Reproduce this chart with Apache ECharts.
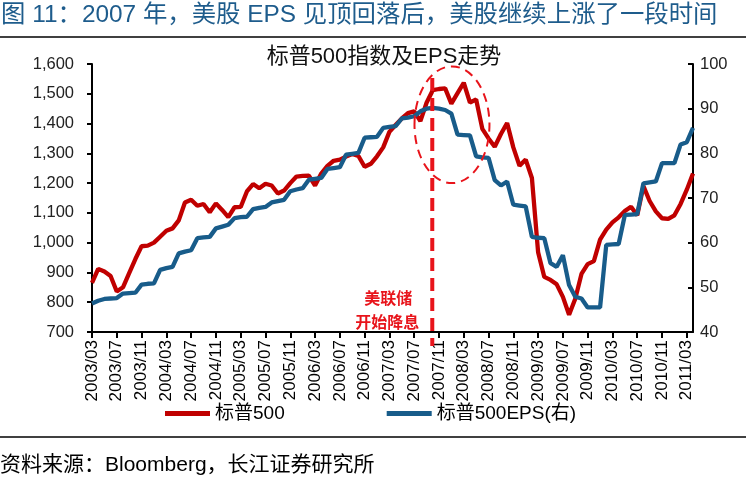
<!DOCTYPE html>
<html>
<head>
<meta charset="utf-8">
<script src="https://cdn.jsdelivr.net/npm/echarts@6/dist/echarts.min.js"></script>
<style>html,body{margin:0;padding:0;background:#fff}#c{width:746px;height:479px}</style>
</head>
<body>
<div id="c"></div>
<script>
// ---- data ----
const months = [];
for (let y = 2003, m = 3; !(y === 2011 && m === 5);) {
  months.push(y + '/' + String(m).padStart(2, '0'));
  m++; if (m > 12) { m = 1; y++; }
}
const sp500 = [
  865, 912, 903, 888, 836, 850, 898, 945, 988, 990,
  1000, 1020, 1040, 1048, 1075, 1135, 1144, 1124, 1130, 1102,
  1132, 1110, 1086, 1119, 1120, 1172, 1197, 1183, 1198, 1192,
  1165, 1175, 1200, 1222, 1224, 1225, 1192, 1232, 1258, 1275,
  1279, 1289, 1298, 1291, 1255, 1265, 1290, 1320, 1372, 1395,
  1417, 1435, 1441, 1408, 1470, 1512, 1516, 1518, 1467, 1502,
  1537, 1470, 1481, 1382, 1350, 1322, 1365, 1402, 1320, 1258,
  1279, 1217, 968, 885, 875, 860, 818, 758, 812, 895,
  928, 938, 1010, 1044, 1068, 1085, 1106, 1121, 1092, 1190,
  1140, 1105, 1082, 1080, 1092, 1130, 1178, 1232
];
const eps = [
  46.4, 47.0, 47.4, 47.5, 47.6, 48.6, 48.7, 48.8, 50.6, 50.8,
  50.9, 53.9, 54.3, 54.6, 57.6, 58.0, 58.3, 61.0, 61.2, 61.3,
  63.2, 63.6, 64.0, 65.5, 65.7, 65.8, 67.5, 67.8, 68.0, 69.0,
  69.3, 69.6, 71.5, 71.9, 72.2, 74.1, 74.3, 74.5, 76.5, 76.7,
  76.9, 79.7, 79.9, 80.1, 83.5, 83.6, 83.7, 85.7, 85.9, 86.1,
  87.8, 88.0, 88.3, 89.4, 90.0, 90.2, 90.0, 89.7, 88.9, 84.2,
  84.1, 84.0, 79.3, 79.1, 79.0, 74.0, 72.8, 73.7, 68.5, 68.3,
  68.1, 61.3, 61.1, 61.0, 55.4, 54.6, 57.2, 50.5, 47.9, 47.5,
  45.5, 45.5, 45.5, 59.5, 59.6, 59.7, 66.2, 66.3, 66.4, 73.3,
  73.5, 73.7, 77.8, 77.8, 77.8, 82.0, 82.5, 85.7
];
const leftTicks = { min: 700, max: 1600, step: 100 };
const rightTicks = { min: 40, max: 100, step: 10 };
const seriesNames = ['标普500', '标普500EPS(右)'];
const fedCutIndex = 55;   // 2007/10 marker position (annotation)

const FONT = '"Liberation Sans", Arial, "Noto Sans CJK SC", sans-serif';
const RED = '#C00000', BLUE = '#185C8A', ANN = '#E8141B';

const chart = echarts.init(document.getElementById('c'), null, { renderer: 'canvas' });
const fmt = v => String(v).replace(/\B(?=(\d{3})+(?!\d))/g, ',');

chart.setOption({
  animation: false,
  backgroundColor: '#fff',
  grid: { left: 92, right: 53, top: 64, bottom: 147 },
  legend: {
    data: seriesNames,
    left: 165, top: 404, padding: 0,
    icon: 'rect', itemWidth: 45, itemHeight: 5, itemGap: 102,
    textStyle: { fontSize: 19, color: '#000', fontFamily: FONT }
  },
  xAxis: {
    type: 'category', data: months, boundaryGap: false,
    axisLine: { lineStyle: { color: '#000', width: 2 } },
    axisTick: { interval: 3, length: 6, lineStyle: { color: '#000', width: 2 } },
    axisLabel: { interval: 3, rotate: 90, fontSize: 17, color: '#000', margin: 8, fontFamily: FONT },
    splitLine: { show: false }
  },
  yAxis: [
    {
      type: 'value', min: leftTicks.min, max: leftTicks.max, interval: leftTicks.step,
      axisLine: { show: true, lineStyle: { color: '#000', width: 2 } },
      axisTick: { show: true, length: 5, lineStyle: { color: '#000', width: 2 } },
      axisLabel: { fontSize: 16.5, color: '#222', margin: 18, fontFamily: FONT, formatter: fmt },
      splitLine: { show: false }
    },
    {
      type: 'value', min: rightTicks.min, max: rightTicks.max, interval: rightTicks.step,
      position: 'right',
      axisLine: { show: true, lineStyle: { color: '#000', width: 2 } },
      axisTick: { show: true, inside: true, length: 5, lineStyle: { color: '#000', width: 2 } },
      axisLabel: { fontSize: 16.5, color: '#222', margin: 7, fontFamily: FONT },
      splitLine: { show: false }
    }
  ],
  series: [
    { name: seriesNames[0], type: 'line', yAxisIndex: 0, data: sp500, showSymbol: false, symbol: 'none',
      lineStyle: { color: RED, width: 4.3 }, itemStyle: { color: RED } },
    { name: seriesNames[1], type: 'line', yAxisIndex: 1, data: eps, showSymbol: false, symbol: 'none',
      lineStyle: { color: BLUE, width: 4.3 }, itemStyle: { color: BLUE } }
  ]
});

// annotation positions derived from the axes
const px = (i, v) => chart.convertToPixel({ xAxisIndex: 0, yAxisIndex: 0 }, [i, v]);
const lineX = px(fedCutIndex, 1000)[0] - 0.5;
const c0 = px(58, 1396), c1 = px(59, 1396);
const ex = c0[0] + 0.1 * (c1[0] - c0[0]);
const ey = c0[1];
const rx = (c1[0] - c0[0]) * 6.05;
const ry = Math.abs(px(58, 1396)[1] - px(58, 1396 + 196)[1]);

chart.setOption({
  graphic: [
    { type: 'text', x: 1, y: 15, style: { text: '图 11：2007 年，美股 EPS 见顶回落后，美股继续上涨了一段时间',
      fill: '#1E5C8C', font: '24.4px ' + FONT, verticalAlign: 'middle', align: 'left' } },
    { type: 'line', shape: { x1: 0, y1: 37, x2: 746, y2: 37 }, style: { stroke: '#000', lineWidth: 1.5 } },
    { type: 'text', x: 384, y: 57, style: { text: '标普500指数及EPS走势', fill: '#111',
      font: '22px ' + FONT, align: 'center', verticalAlign: 'middle' } },
    { type: 'line', shape: { x1: 0, y1: 437, x2: 746, y2: 437 }, style: { stroke: '#000', lineWidth: 1.5 } },
    { type: 'text', x: 0, y: 465, style: { text: '资料来源：Bloomberg，长江证券研究所', fill: '#000',
      font: '21px ' + FONT, align: 'left', verticalAlign: 'middle' } },
    { type: 'line', z: 100, shape: { x1: lineX, y1: 78, x2: lineX, y2: 346 },
      style: { stroke: ANN, lineWidth: 4, lineDash: [13, 7] } },
    { type: 'ellipse', z: 100, shape: { cx: ex, cy: ey, rx: rx, ry: ry },
      style: { fill: 'none', stroke: ANN, lineWidth: 2, lineDash: [9, 6] } },
    { type: 'text', z: 100, x: lineX - 44, y: 298, style: { text: '美联储', fill: ANN,
      font: 'bold 16px "Noto Sans CJK SC", sans-serif', align: 'center', verticalAlign: 'middle' } },
    { type: 'text', z: 100, x: lineX - 45, y: 322, style: { text: '开始降息', fill: ANN,
      font: 'bold 16px "Noto Sans CJK SC", sans-serif', align: 'center', verticalAlign: 'middle' } }
  ]
});
</script>
</body>
</html>
